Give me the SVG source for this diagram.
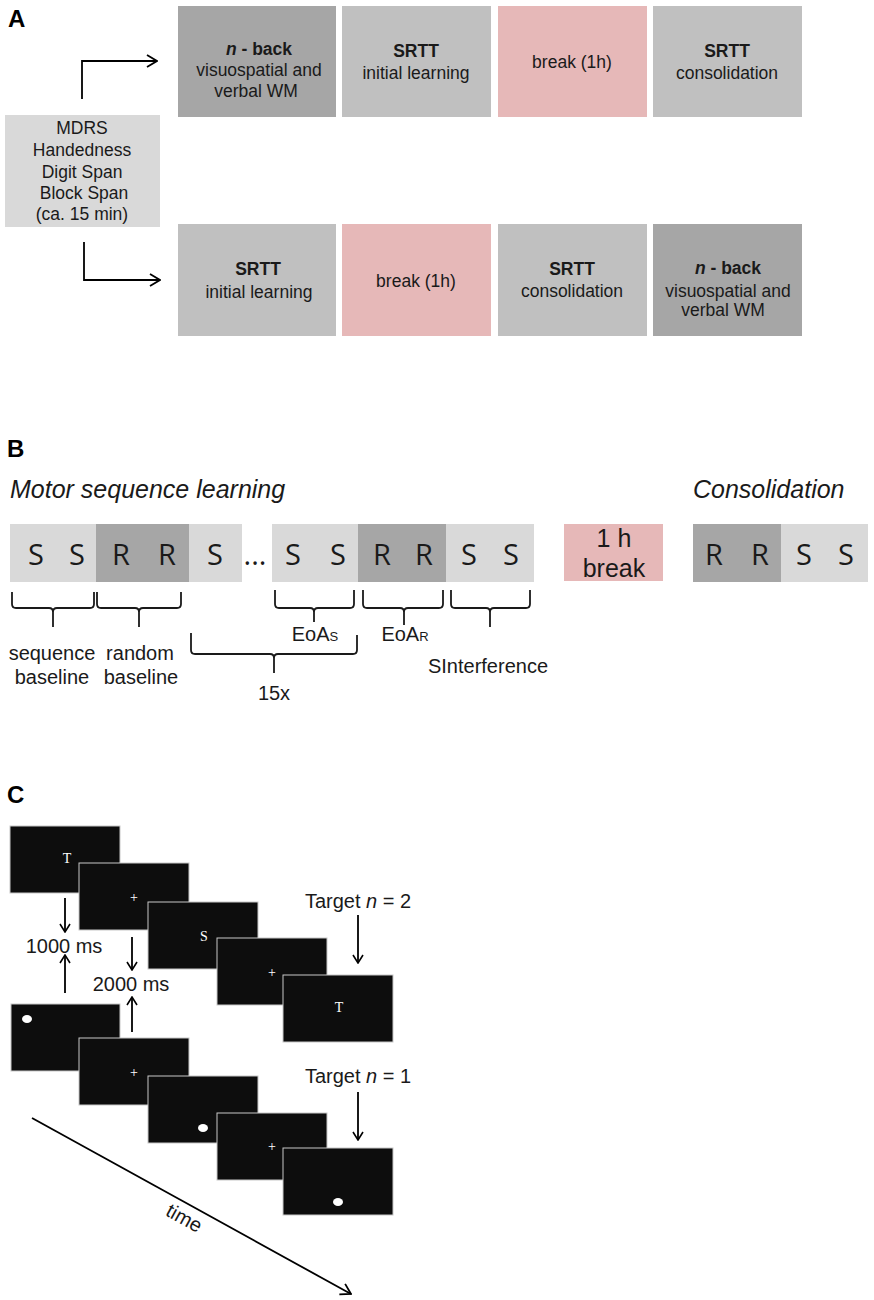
<svg xmlns="http://www.w3.org/2000/svg" width="874" height="1300" viewBox="0 0 874 1300">
<style>
.t{font-family:"Liberation Sans",Arial,sans-serif;fill:#1a1a1a;text-anchor:middle}
.a{font-size:17.5px}
.b{font-weight:bold}
.lab{font-family:"Liberation Sans",Arial,sans-serif;font-weight:bold;font-size:24px;fill:#000}
.ln{fill:none;stroke:#000;stroke-width:1.8}
.br{fill:none;stroke:#1a1a1a;stroke-width:1.8}
.dk{fill:#a6a6a6}
.md{fill:#c0c0c0}
.lt{fill:#d9d9d9}
.pk{fill:#e6b8b8}
.blk{font-family:"Open Sans","Noto Sans",sans-serif;font-size:29px;fill:#1a1a1a;text-anchor:middle}
.lb{font-family:"Liberation Sans",Arial,sans-serif;font-size:20px;fill:#1a1a1a;text-anchor:middle}
.scr{fill:#0d0d0d;stroke:#c8c8c8;stroke-width:1}
.st{font-family:"Liberation Serif","Times New Roman",serif;font-size:14px;fill:#fff;text-anchor:middle}
.dot{fill:#fff}
</style>
<defs>
<marker id="arrA" viewBox="0 0 12 14" refX="11" refY="7" markerWidth="12" markerHeight="14" markerUnits="userSpaceOnUse" orient="auto">
<path d="M1,1 L11,7 L1,13" fill="none" stroke="#000" stroke-width="1.8"/>
</marker>
<marker id="arrC" viewBox="0 0 10 12" refX="9" refY="6" markerWidth="10" markerHeight="12" markerUnits="userSpaceOnUse" orient="auto">
<path d="M1,1 L9,6 L1,11" fill="none" stroke="#000" stroke-width="1.6"/>
</marker>
</defs>
<rect width="874" height="1300" fill="#fff"/>

<!-- Panel A -->
<text class="lab" x="8" y="27">A</text>
<g id="mdrs">
<rect class="lt" x="5" y="115" width="155" height="112"/>
<text class="t a" x="82" y="134">MDRS</text>
<text class="t a" x="82" y="156">Handedness</text>
<text class="t a" x="82" y="178">Digit Span</text>
<text class="t a" x="84" y="199">Block Span</text>
<text class="t a" x="82" y="220">(ca. 15 min)</text>
</g>
<g id="top-nback">
<rect class="dk" x="178" y="6" width="158" height="111"/>
<text class="t a b" x="259" y="55"><tspan font-style="italic">n</tspan> - back</text>
<text class="t a" x="259" y="76">visuospatial and</text>
<text class="t a" x="256" y="97">verbal WM</text>
</g>
<g id="top-srtt1">
<rect class="md" x="342" y="6" width="149" height="111"/>
<text class="t a b" x="416" y="57">SRTT</text>
<text class="t a" x="416" y="79">initial learning</text>
</g>
<g id="top-break">
<rect class="pk" x="498" y="6" width="149" height="111"/>
<text class="t a" x="572" y="68">break (1h)</text>
</g>
<g id="top-srtt2">
<rect class="md" x="653" y="6" width="149" height="111"/>
<text class="t a b" x="727" y="57">SRTT</text>
<text class="t a" x="727" y="79">consolidation</text>
</g>
<g id="bot-srtt1">
<rect class="md" x="178" y="224" width="158" height="112"/>
<text class="t a b" x="258" y="275">SRTT</text>
<text class="t a" x="259" y="298">initial learning</text>
</g>
<g id="bot-break">
<rect class="pk" x="342" y="224" width="149" height="112"/>
<text class="t a" x="416" y="287">break (1h)</text>
</g>
<g id="bot-srtt2">
<rect class="md" x="498" y="224" width="149" height="112"/>
<text class="t a b" x="572" y="275">SRTT</text>
<text class="t a" x="572" y="297">consolidation</text>
</g>
<g id="bot-nback">
<rect class="dk" x="653" y="224" width="149" height="112"/>
<text class="t a b" x="728" y="274"><tspan font-style="italic">n</tspan> - back</text>
<text class="t a" x="728" y="297">visuospatial and</text>
<text class="t a" x="723" y="316">verbal WM</text>
</g>

<!-- Panel B -->
<text class="lab" x="7" y="457">B</text>
<text x="10" y="498" font-family="Liberation Sans,Arial,sans-serif" font-style="italic" font-size="25" fill="#1a1a1a">Motor sequence learning</text>
<text x="693" y="498" font-family="Liberation Sans,Arial,sans-serif" font-style="italic" font-size="25" fill="#1a1a1a">Consolidation</text>
<g id="seq-row">
<rect class="lt" x="10" y="524" width="86" height="58"/>
<rect class="dk" x="96" y="524" width="93" height="58"/>
<rect class="lt" x="189" y="524" width="53" height="58"/>
<rect class="lt" x="272" y="524" width="86" height="58"/>
<rect class="dk" x="358" y="524" width="88" height="58"/>
<rect class="lt" x="446" y="524" width="88" height="58"/>
<text class="blk" x="36" y="565">S</text>
<text class="blk" x="77" y="565">S</text>
<text class="blk" x="121" y="565">R</text>
<text class="blk" x="167" y="565">R</text>
<text class="blk" x="215" y="565">S</text>
<text class="blk" x="255" y="565">...</text>
<text class="blk" x="293" y="565">S</text>
<text class="blk" x="338" y="565">S</text>
<text class="blk" x="382" y="565">R</text>
<text class="blk" x="424" y="565">R</text>
<text class="blk" x="469" y="565">S</text>
<text class="blk" x="511" y="565">S</text>
</g>
<g id="break-1h">
<rect class="pk" x="564" y="524" width="99" height="57"/>
<text class="t" font-size="25" x="614" y="547">1 h</text>
<text class="t" font-size="25" x="614" y="577">break</text>
</g>
<g id="consol-row">
<rect class="dk" x="693" y="524" width="88" height="58"/>
<rect class="lt" x="781" y="524" width="87" height="58"/>
<text class="blk" x="714" y="565">R</text>
<text class="blk" x="760" y="565">R</text>
<text class="blk" x="804" y="565">S</text>
<text class="blk" x="846" y="565">S</text>
</g>
<g id="braces">
<path class="br" d="M12,592 V604 Q12,608 16,608 H49 Q53,608 53,612 V627 M53,612 Q53,608 57,608 H90 Q94,608 94,604 V592"/>
<path class="br" d="M97,592 V604 Q97,608 101,608 H135 Q139,608 139,612 V627 M139,612 Q139,608 143,608 H177 Q181,608 181,604 V592"/>
<path class="br" d="M275,590 V604 Q275,608 279,608 H310 Q314,608 314,612 V622 M314,612 Q314,608 318,608 H350 Q354,608 354,604 V590"/>
<path class="br" d="M363,590 V604 Q363,608 367,608 H400 Q404,608 404,612 V625 M404,612 Q404,608 408,608 H439 Q443,608 443,604 V590"/>
<path class="br" d="M451,590 V604 Q451,608 455,608 H486 Q490,608 490,612 V627 M490,612 Q490,608 494,608 H526 Q530,608 530,604 V590"/>
<path class="br" d="M191,633 V650 Q191,654 195,654 H270 Q274,654 274,658 V673 M274,658 Q274,654 278,654 H353 Q357,654 357,650 V635"/>
</g>
<g id="brace-labels">
<text class="lb" x="52" y="660">sequence</text>
<text class="lb" x="52" y="684">baseline</text>
<text class="lb" x="140" y="660">random</text>
<text class="lb" x="141" y="684">baseline</text>
<text class="lb" x="315" y="641">EoA<tspan font-size="13">S</tspan></text>
<text class="lb" x="405" y="641">EoA<tspan font-size="13">R</tspan></text>
<text class="lb" x="274" y="700">15x</text>
<text class="lb" x="488" y="673">SInterference</text>
</g>

<!-- Panel C -->
<text class="lab" x="7" y="803">C</text>
<g id="screens-letters">
<rect class="scr" x="10" y="826" width="110" height="67"/>
<text class="st" x="67" y="863">T</text>
<rect class="scr" x="79" y="863" width="110" height="67"/>
<text class="st" x="134" y="902">+</text>
<rect class="scr" x="148" y="902" width="110" height="67"/>
<text class="st" x="204" y="941">S</text>
<rect class="scr" x="217" y="938" width="110" height="67"/>
<text class="st" x="272" y="977">+</text>
<rect class="scr" x="283" y="975" width="110" height="67"/>
<text class="st" x="339" y="1012">T</text>
</g>
<g id="screens-dots">
<rect class="scr" x="11" y="1004" width="109" height="67"/>
<ellipse class="dot" cx="27" cy="1019" rx="5" ry="4"/>
<rect class="scr" x="79" y="1038" width="110" height="67"/>
<text class="st" x="134" y="1077">+</text>
<rect class="scr" x="148" y="1076" width="110" height="67"/>
<ellipse class="dot" cx="203" cy="1128" rx="5" ry="4"/>
<rect class="scr" x="217" y="1113" width="110" height="67"/>
<text class="st" x="272" y="1151">+</text>
<rect class="scr" x="283" y="1148" width="110" height="67"/>
<ellipse class="dot" cx="338" cy="1202" rx="5" ry="4"/>
</g>
<g id="timing-labels">
<text class="lb" font-size="18" x="64" y="953">1000 ms</text>
<text class="lb" font-size="18" x="131" y="991">2000 ms</text>
<text class="lb" font-size="18" x="358" y="908">Target <tspan font-style="italic">n</tspan> = 2</text>
<text class="lb" font-size="18" x="358" y="1083">Target <tspan font-style="italic">n</tspan> = 1</text>
<text class="lb" font-size="18" transform="translate(181,1224) rotate(29)">time</text>
</g>

<g id="connectors">
<path class="ln" d="M82,99 V61 H157" marker-end="url(#arrA)"/>
<path class="ln" d="M84,242 V280 H160" marker-end="url(#arrA)"/>
<path class="ln" stroke-width="1.6" d="M65,898 V932" marker-end="url(#arrC)"/>
<path class="ln" stroke-width="1.6" d="M65,993 V955" marker-end="url(#arrC)"/>
<path class="ln" stroke-width="1.6" d="M132,937 V970" marker-end="url(#arrC)"/>
<path class="ln" stroke-width="1.6" d="M132,1032 V997" marker-end="url(#arrC)"/>
<path class="ln" stroke-width="1.6" d="M358,915 V963" marker-end="url(#arrC)"/>
<path class="ln" stroke-width="1.6" d="M358,1092 V1140" marker-end="url(#arrC)"/>
<path class="ln" stroke-width="1.6" d="M32,1118 L351,1294" marker-end="url(#arrA)"/>
</g>
</svg>
